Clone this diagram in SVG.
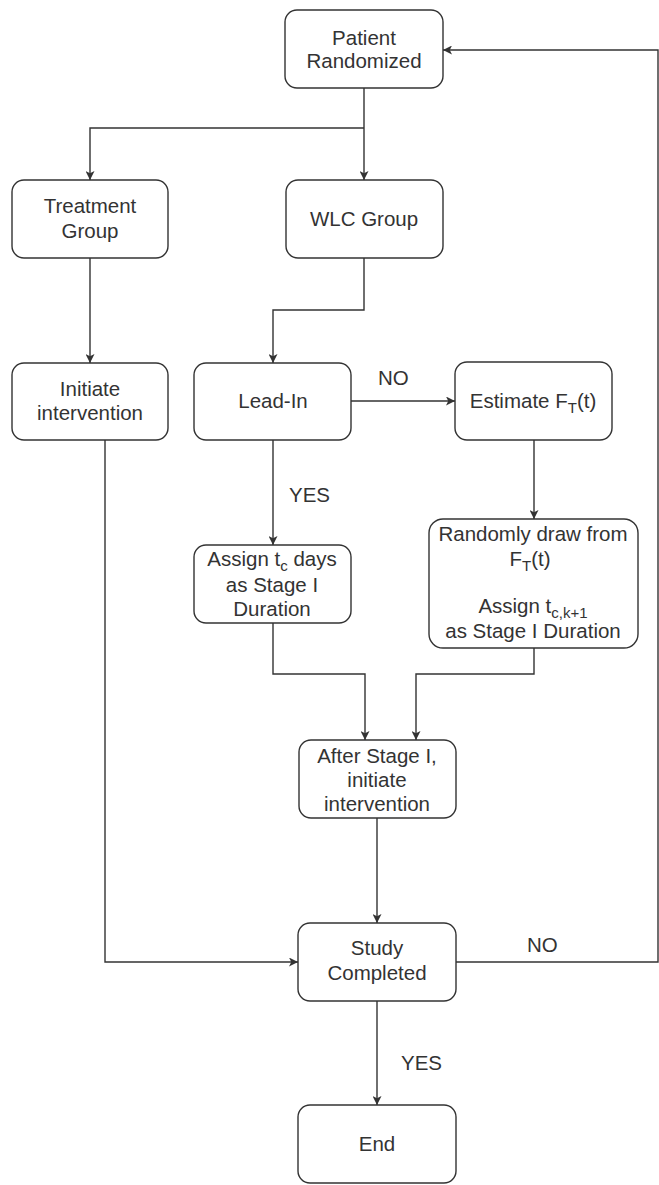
<svg xmlns="http://www.w3.org/2000/svg" width="659" height="1185" viewBox="0 0 659 1185">
<style>
.box{fill:#fff;stroke:#333;stroke-width:1.4}
.t{font-family:"Liberation Sans",Arial,sans-serif;font-size:20.5px;fill:#333;text-anchor:middle}
.lbl{font-family:"Liberation Sans",Arial,sans-serif;font-size:20.5px;fill:#333}
.c{fill:none;stroke:#333;stroke-width:1.4}
</style>
<defs>
<marker id="ah" viewBox="0 0 10 10" refX="10" refY="5" markerWidth="9" markerHeight="9" markerUnits="userSpaceOnUse" orient="auto">
<path d="M0,0 L10,5 L0,10 L2.5,5 Z" fill="#333"/>
</marker>
</defs>
<rect width="659" height="1185" fill="#fff"/>
<g id="connectors">
<path class="c" d="M364,88 V180" marker-end="url(#ah)"/>
<path class="c" d="M364,128 H90 V180" marker-end="url(#ah)"/>
<path class="c" d="M90,258 V363" marker-end="url(#ah)"/>
<path class="c" d="M364,258 V310 H273 V363" marker-end="url(#ah)"/>
<path class="c" d="M351,401 H455" marker-end="url(#ah)"/>
<path class="c" d="M273,440 V545" marker-end="url(#ah)"/>
<path class="c" d="M534,440 V519" marker-end="url(#ah)"/>
<path class="c" d="M273,623 V674 H365 V740" marker-end="url(#ah)"/>
<path class="c" d="M534,648 V674 H416 V740" marker-end="url(#ah)"/>
<path class="c" d="M377,818 V923" marker-end="url(#ah)"/>
<path class="c" d="M105,440 V962 H298" marker-end="url(#ah)"/>
<path class="c" d="M456,962 H658 V50 H443" marker-end="url(#ah)"/>
<path class="c" d="M377,1001 V1105" marker-end="url(#ah)"/>
<text class="lbl" x="378" y="385">NO</text>
<text class="lbl" x="289" y="502">YES</text>
<text class="lbl" x="527" y="952">NO</text>
<text class="lbl" x="401" y="1070">YES</text>
</g>
<g id="patient">
<rect class="box" x="285" y="10" width="158" height="78" rx="12"/>
<text class="t" x="364" y="45">Patient</text>
<text class="t" x="364" y="68">Randomized</text>
</g>
<g id="treatment">
<rect class="box" x="12" y="180" width="156" height="78" rx="12"/>
<text class="t" x="90" y="213">Treatment</text>
<text class="t" x="90" y="238">Group</text>
</g>
<g id="wlc">
<rect class="box" x="286" y="180" width="157" height="78" rx="12"/>
<text class="t" x="364" y="226">WLC Group</text>
</g>
<g id="initiate">
<rect class="box" x="12" y="363" width="156" height="77" rx="12"/>
<text class="t" x="90" y="396">Initiate</text>
<text class="t" x="90" y="420">intervention</text>
</g>
<g id="leadin">
<rect class="box" x="194" y="363" width="157" height="77" rx="12"/>
<text class="t" x="273" y="408">Lead-In</text>
</g>
<g id="estimate">
<rect class="box" x="455" y="362" width="157" height="78" rx="12"/>
<text class="t" x="533" y="408">Estimate F<tspan font-size="15" dy="5">T</tspan><tspan dy="-5">(t)</tspan></text>
</g>
<g id="assign">
<rect class="box" x="194" y="545" width="157" height="78" rx="12"/>
<text class="t" x="272" y="566">Assign t<tspan font-size="15" dy="5">c</tspan><tspan dy="-5"> days</tspan></text>
<text class="t" x="272" y="592">as Stage I</text>
<text class="t" x="272" y="616">Duration</text>
</g>
<g id="randomly">
<rect class="box" x="429" y="519" width="209" height="129" rx="14"/>
<text class="t" x="533" y="541">Randomly draw from</text>
<text class="t" x="530" y="566">F<tspan font-size="15" dy="5">T</tspan><tspan dy="-5">(t)</tspan></text>
<text class="t" x="533" y="613">Assign t<tspan font-size="15" dy="5">c,k+1</tspan></text>
<text class="t" x="533" y="638">as Stage I Duration</text>
</g>
<g id="after">
<rect class="box" x="299" y="740" width="157" height="78" rx="12"/>
<text class="t" x="377" y="763">After Stage I,</text>
<text class="t" x="377" y="787">initiate</text>
<text class="t" x="377" y="811">intervention</text>
</g>
<g id="study">
<rect class="box" x="298" y="923" width="158" height="78" rx="12"/>
<text class="t" x="377" y="955">Study</text>
<text class="t" x="377" y="980">Completed</text>
</g>
<g id="end">
<rect class="box" x="298" y="1105" width="158" height="78" rx="12"/>
<text class="t" x="377" y="1151">End</text>
</g>
</svg>
